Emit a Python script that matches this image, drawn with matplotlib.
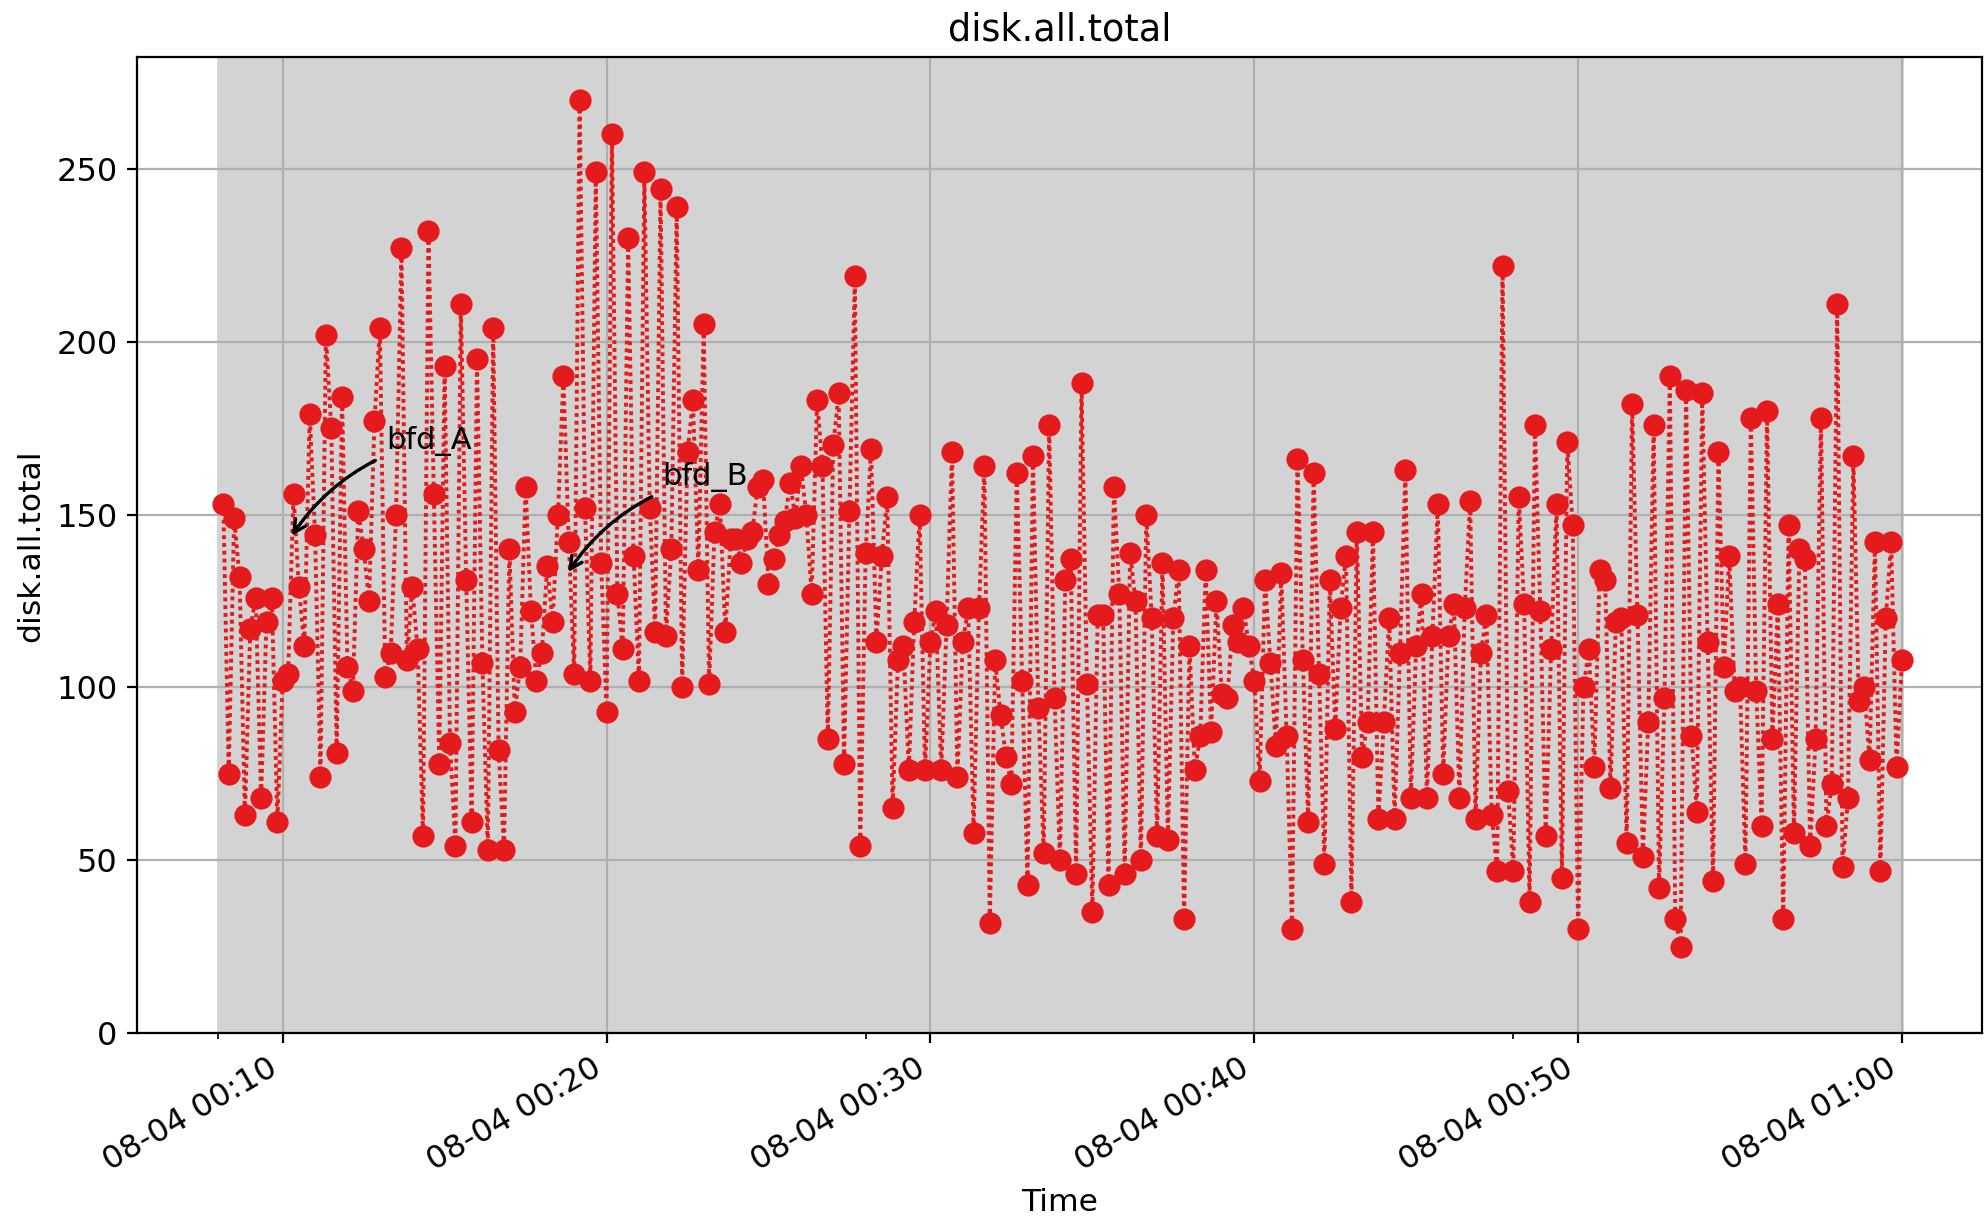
import numpy as np
import pandas as pd
import matplotlib
matplotlib.use('Agg')
import matplotlib.pyplot as plt
import matplotlib.dates as mdates

plt.rcParams['font.size'] = 11.5

# disk.all.total samples, every 10 s
start_time = '2024-08-04 00:08:10'
span_start = '2024-08-04 00:08:00'
span_end = '2024-08-04 01:00:00'
values = [
    153, 75, 149, 132, 63, 117, 126, 68, 119, 126,
    61, 102, 104, 156, 129, 112, 179, 144, 74, 202,
    175, 81, 184, 106, 99, 151, 140, 125, 177, 204,
    103, 110, 150, 227, 108, 129, 111, 57, 232, 156,
    78, 193, 84, 54, 211, 131, 61, 195, 107, 53,
    204, 82, 53, 140, 93, 106, 158, 122, 102, 110,
    135, 119, 150, 190, 142, 104, 270, 152, 102, 249,
    136, 93, 260, 127, 111, 230, 138, 102, 249, 152,
    116, 244, 115, 140, 239, 100, 168, 183, 134, 205,
    101, 145, 153, 116, 143, 143, 136, 143, 145, 158,
    160, 130, 137, 144, 148, 159, 149, 164, 150, 127,
    183, 164, 85, 170, 185, 78, 151, 219, 54, 139,
    169, 113, 138, 155, 65, 108, 112, 76, 119, 150,
    76, 113, 122, 76, 118, 168, 74, 113, 123, 58,
    123, 164, 32, 108, 92, 80, 72, 162, 102, 43,
    167, 94, 52, 176, 97, 50, 131, 137, 46, 188,
    101, 35, 121, 121, 43, 158, 127, 46, 139, 125,
    50, 150, 120, 57, 136, 56, 120, 134, 33, 112,
    76, 86, 134, 87, 125, 98, 97, 118, 113, 123,
    112, 102, 73, 131, 107, 83, 133, 86, 30, 166,
    108, 61, 162, 104, 49, 131, 88, 123, 138, 38,
    145, 80, 90, 145, 62, 90, 120, 62, 110, 163,
    68, 112, 127, 68, 115, 153, 75, 115, 124, 68,
    123, 154, 62, 110, 121, 63, 47, 222, 70, 47,
    155, 124, 38, 176, 122, 57, 111, 153, 45, 171,
    147, 30, 100, 111, 77, 134, 131, 71, 119, 120,
    55, 182, 121, 51, 90, 176, 42, 97, 190, 33,
    25, 186, 86, 64, 185, 113, 44, 168, 106, 138,
    99, 100, 49, 178, 99, 60, 180, 85, 124, 33,
    147, 58, 140, 137, 54, 85, 178, 60, 72, 211,
    48, 68, 167, 96, 100, 79, 142, 47, 120, 142,
    77, 108,
]
times = pd.date_range(start_time, periods=len(values), freq='10s')

# annotations
notes = ['bfd_A', 'bfd_B']
note_times = [pd.Timestamp('2024-08-04 00:10:11'), pd.Timestamp('2024-08-04 00:18:43')]
note_vals = [142.5, 132]

fig = plt.figure(figsize=(9.94, 6.085), dpi=200)
ax = fig.add_axes([0.0689, 0.151, 0.928, 0.802])

ax.axvspan(pd.Timestamp(span_start), pd.Timestamp(span_end), color='lightgray', zorder=0)
ax.plot(times, values, color='#e41a1c', linestyle=(0, (1, 1)), linewidth=1.4,
        marker='o', markersize=7, zorder=3)

for txt, t, v in zip(notes, note_times, note_vals):
    ax.annotate(txt, xy=(t, v), xytext=(35, 33), textcoords='offset points', fontsize=11,
                arrowprops=dict(arrowstyle='->', color='black', lw=1.2,
                                connectionstyle='arc3,rad=0.2'), zorder=4)

ax.set_xlim(pd.Timestamp('2024-08-04 00:05:30'), pd.Timestamp('2024-08-04 01:02:28'))
ax.set_ylim(bottom=0)
ax.xaxis.set_major_locator(mdates.MinuteLocator(byminute=[0, 10, 20, 30, 40, 50]))
ax.xaxis.set_minor_locator(mdates.MinuteLocator(byminute=[8, 28, 48]))
ax.xaxis.set_major_formatter(mdates.DateFormatter('%m-%d %H:%M'))
for lbl in ax.get_xticklabels():
    lbl.set_rotation(30)
    lbl.set_ha('right')
ax.grid(True, zorder=1)
ax.set_axisbelow(True)

ax.set_title('disk.all.total', fontsize=13.2)
ax.set_xlabel('Time', fontsize=11.3)
ax.set_ylabel('disk.all.total', fontsize=11.3)

fig.savefig('out.png', dpi=200)
